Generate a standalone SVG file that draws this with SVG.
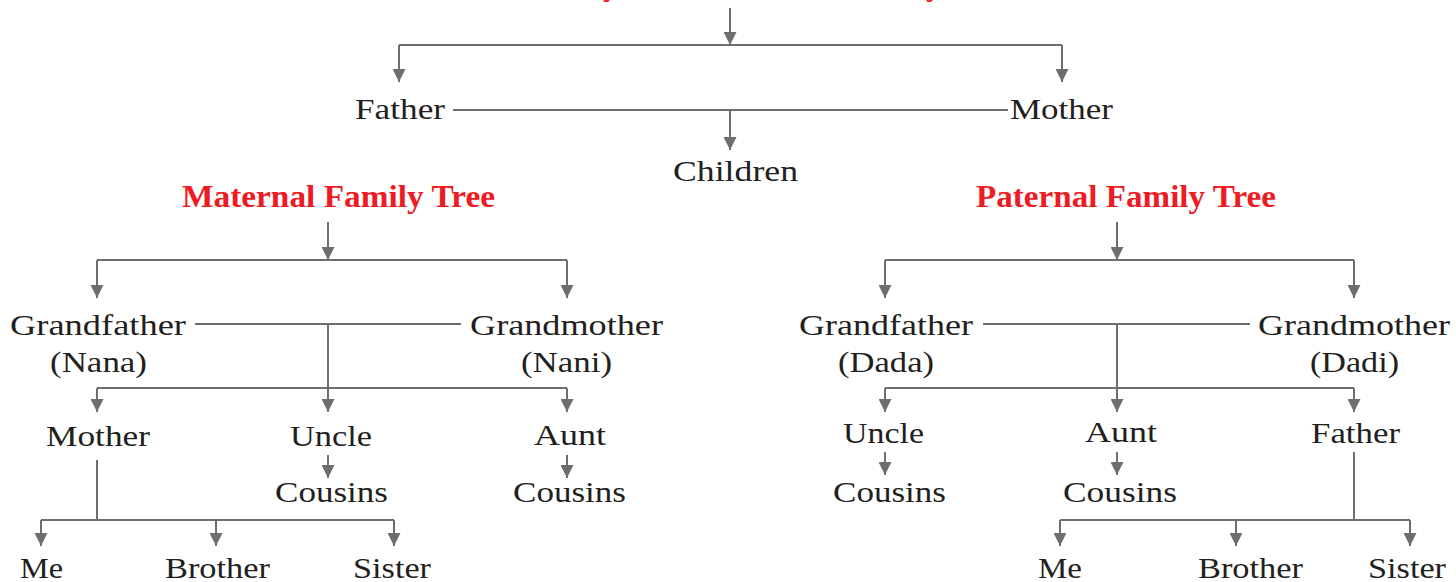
<svg xmlns="http://www.w3.org/2000/svg" width="1456" height="582" viewBox="0 0 1456 582">
<style>
.t{font-family:"Liberation Serif","Times New Roman",serif;font-size:30px;fill:#231f20}
.h{font-family:"Liberation Serif","Times New Roman",serif;font-size:32px;font-weight:bold;fill:#ed1c24}
.c{fill:none;stroke:#6d6e71;stroke-width:2}
.a{marker-end:url(#ah)}
</style>
<defs>
<marker id="ah" markerUnits="userSpaceOnUse" markerWidth="13" markerHeight="13" refX="13" refY="6.5" orient="auto" viewBox="0 0 13 13">
<path d="M0,0 L13,6.5 L0,13 z" fill="#6d6e71"/>
</marker>
</defs>
<rect width="1456" height="582" fill="#ffffff"/>

<g id="title-top"><text class="h" x="523" y="-5">Family Tree of Nuclear Family</text></g>
<g id="father-top"><text class="t" x="355" y="119" textLength="90" lengthAdjust="spacingAndGlyphs">Father</text></g>
<g id="mother-top"><text class="t" x="1010" y="119" textLength="103" lengthAdjust="spacingAndGlyphs">Mother</text></g>
<g id="children"><text class="t" x="673" y="181" textLength="125" lengthAdjust="spacingAndGlyphs">Children</text></g>

<g id="maternal-title"><text class="h" x="182" y="207" textLength="313" lengthAdjust="spacingAndGlyphs">Maternal Family Tree</text></g>
<g id="m-grandfather"><text class="t" x="10" y="335" textLength="176" lengthAdjust="spacingAndGlyphs">Grandfather</text><text class="t" x="50" y="372" textLength="97" lengthAdjust="spacingAndGlyphs">(Nana)</text></g>
<g id="m-grandmother"><text class="t" x="470" y="335" textLength="193" lengthAdjust="spacingAndGlyphs">Grandmother</text><text class="t" x="521" y="372" textLength="91" lengthAdjust="spacingAndGlyphs">(Nani)</text></g>
<g id="m-mother"><text class="t" x="46" y="446" textLength="104" lengthAdjust="spacingAndGlyphs">Mother</text></g>
<g id="m-uncle"><text class="t" x="290" y="446" textLength="82" lengthAdjust="spacingAndGlyphs">Uncle</text></g>
<g id="m-aunt"><text class="t" x="534" y="445" textLength="72" lengthAdjust="spacingAndGlyphs">Aunt</text></g>
<g id="m-uncle-cousins"><text class="t" x="275" y="502" textLength="113" lengthAdjust="spacingAndGlyphs">Cousins</text></g>
<g id="m-aunt-cousins"><text class="t" x="513" y="502" textLength="113" lengthAdjust="spacingAndGlyphs">Cousins</text></g>
<g id="m-me"><text class="t" x="20" y="578" textLength="43" lengthAdjust="spacingAndGlyphs">Me</text></g>
<g id="m-brother"><text class="t" x="165" y="578" textLength="105" lengthAdjust="spacingAndGlyphs">Brother</text></g>
<g id="m-sister"><text class="t" x="353" y="578" textLength="78" lengthAdjust="spacingAndGlyphs">Sister</text></g>

<g id="paternal-title"><text class="h" x="976" y="207" textLength="300" lengthAdjust="spacingAndGlyphs">Paternal Family Tree</text></g>
<g id="p-grandfather"><text class="t" x="799" y="335" textLength="174" lengthAdjust="spacingAndGlyphs">Grandfather</text><text class="t" x="838" y="372" textLength="96" lengthAdjust="spacingAndGlyphs">(Dada)</text></g>
<g id="p-grandmother"><text class="t" x="1258" y="335" textLength="192" lengthAdjust="spacingAndGlyphs">Grandmother</text><text class="t" x="1310" y="372" textLength="89" lengthAdjust="spacingAndGlyphs">(Dadi)</text></g>
<g id="p-uncle"><text class="t" x="843" y="443" textLength="81" lengthAdjust="spacingAndGlyphs">Uncle</text></g>
<g id="p-aunt"><text class="t" x="1085" y="442" textLength="72" lengthAdjust="spacingAndGlyphs">Aunt</text></g>
<g id="p-father"><text class="t" x="1311" y="443" textLength="89" lengthAdjust="spacingAndGlyphs">Father</text></g>
<g id="p-uncle-cousins"><text class="t" x="833" y="502" textLength="113" lengthAdjust="spacingAndGlyphs">Cousins</text></g>
<g id="p-aunt-cousins"><text class="t" x="1063" y="502" textLength="114" lengthAdjust="spacingAndGlyphs">Cousins</text></g>
<g id="p-me"><text class="t" x="1038" y="578" textLength="44" lengthAdjust="spacingAndGlyphs">Me</text></g>
<g id="p-brother"><text class="t" x="1198" y="578" textLength="105" lengthAdjust="spacingAndGlyphs">Brother</text></g>
<g id="p-sister"><text class="t" x="1368" y="578" textLength="78" lengthAdjust="spacingAndGlyphs">Sister</text></g>

<g id="connectors">
<path class="c a" d="M730,8 V45"/>
<path class="c" d="M399,45 H1062"/>
<path class="c a" d="M399,45 V82"/>
<path class="c a" d="M1062,45 V82"/>
<path class="c" d="M453,110 H1008"/>
<path class="c a" d="M730,110 V150"/>
<path class="c a" d="M328,222 V260"/>
<path class="c" d="M97,260 H567"/>
<path class="c a" d="M97,260 V298"/>
<path class="c a" d="M567,260 V298"/>
<path class="c" d="M195,324 H461"/>
<path class="c a" d="M328,324 V412"/>
<path class="c" d="M97,388 H567"/>
<path class="c a" d="M97,388 V412"/>
<path class="c a" d="M567,388 V412"/>
<path class="c a" d="M328,455 V478"/>
<path class="c a" d="M567,455 V478"/>
<path class="c" d="M97,460 V520"/>
<path class="c" d="M41,520 H394"/>
<path class="c a" d="M41,520 V546"/>
<path class="c a" d="M216,520 V546"/>
<path class="c a" d="M394,520 V546"/>
<path class="c a" d="M1117,222 V260"/>
<path class="c" d="M885,260 H1354"/>
<path class="c a" d="M885,260 V298"/>
<path class="c a" d="M1354,260 V298"/>
<path class="c" d="M983,324 H1250"/>
<path class="c a" d="M1117,324 V412"/>
<path class="c" d="M885,388 H1354"/>
<path class="c a" d="M885,388 V412"/>
<path class="c a" d="M1354,388 V412"/>
<path class="c a" d="M885,452 V475"/>
<path class="c a" d="M1117,452 V475"/>
<path class="c" d="M1354,452 V520"/>
<path class="c" d="M1060,520 H1410"/>
<path class="c a" d="M1060,520 V546"/>
<path class="c a" d="M1236,520 V546"/>
<path class="c a" d="M1410,520 V546"/>
</g>
</svg>
